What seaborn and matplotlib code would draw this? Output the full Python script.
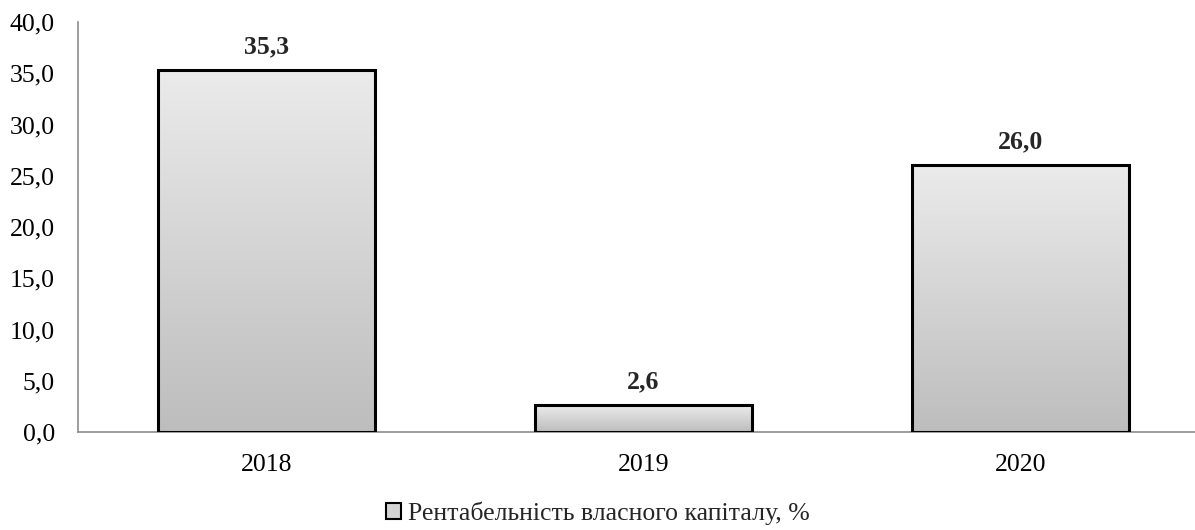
import numpy as np
import pandas as pd
import matplotlib
matplotlib.use("Agg")
import matplotlib.pyplot as plt
from matplotlib.patches import Patch
from matplotlib.colors import LinearSegmentedColormap
import seaborn as sns

years = ["2018", "2019", "2020"]
roe = [35.3, 2.6, 26.0]
series_label = "Рентабельність власного капіталу, %"
y_ticks = [0, 5, 10, 15, 20, 25, 30, 35, 40]

sns.set_theme(style="white")
plt.rcParams["font.family"] = ["Liberation Serif", "DejaVu Serif"]

df = pd.DataFrame({"year": years, "roe": roe})

fig = plt.figure(figsize=(11.95, 5.30), dpi=100)
ax = fig.add_axes([0.0653, 0.185, 0.9347, 0.7735])

sns.barplot(data=df, x="year", y="roe", ax=ax, width=0.575,
            color="#d4d4d4", edgecolor="black", linewidth=2.2, zorder=3)

# vertical grey gradient inside each bar, clipped to the bar outline
grad_cmap = LinearSegmentedColormap.from_list("bar_grad", ["#bdbdbd", "#ebebeb"])
grad = np.linspace(0, 1, 256).reshape(-1, 1)
for bar in ax.patches:
    bar.set_facecolor("none")
    x0, y0 = bar.get_x(), bar.get_y()
    w, h = bar.get_width(), bar.get_height()
    im = ax.imshow(grad, cmap=grad_cmap, origin="lower", aspect="auto",
                   extent=[x0, x0 + w, y0, y0 + h], zorder=2,
                   interpolation="bilinear")
    im.set_clip_path(bar)
    ax.text(x0 + w / 2, h + 1.15, f"{h:.1f}".replace(".", ","),
            ha="center", va="bottom", fontsize=18.5, fontweight="bold")

ax.set_xlim(-0.5, 2.463)
ax.set_ylim(0, 40)
ax.set_yticks(y_ticks)
ax.set_yticklabels([f"{v:.1f}".replace(".", ",") for v in y_ticks])
ax.tick_params(axis="both", length=0, labelsize=18.5, colors="black")
ax.tick_params(axis="y", pad=16.5)
ax.tick_params(axis="x", pad=16)
ax.set_xlabel("")
ax.set_ylabel("")
sns.despine(ax=ax, top=True, right=True)
for side in ("left", "bottom"):
    ax.spines[side].set_color("#8c8c8c")
    ax.spines[side].set_linewidth(1.2)

handle = Patch(facecolor="#d4d4d4", edgecolor="black", linewidth=1.5)
fig.legend([handle], [series_label], loc="center", bbox_to_anchor=(0.5, 0.032),
           frameon=False, fontsize=18.5, handlelength=0.6, handleheight=0.6,
           handletextpad=0.25)

fig.savefig("out.png", dpi=100)
